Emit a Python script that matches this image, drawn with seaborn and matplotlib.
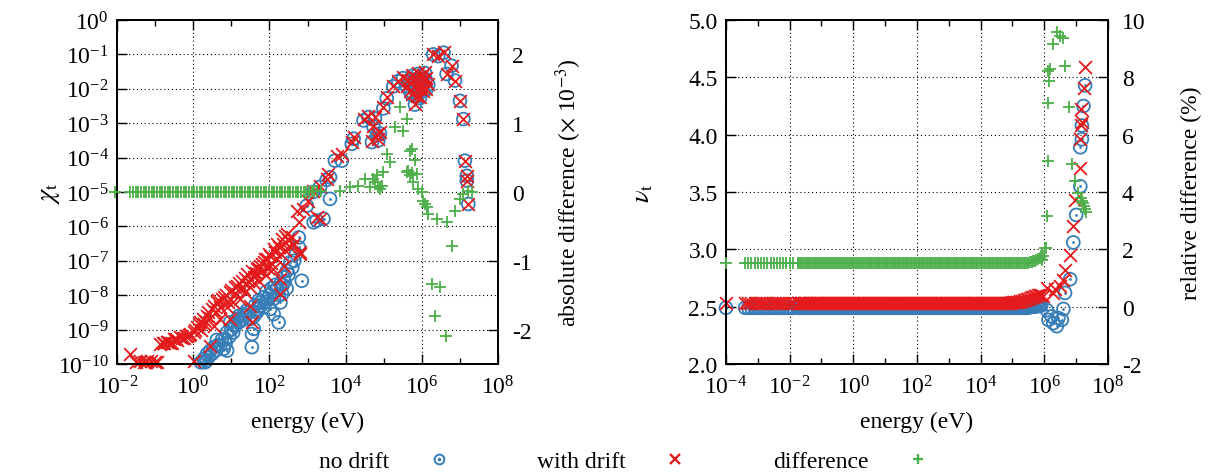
import numpy as np
import matplotlib
matplotlib.use("Agg")
import matplotlib.pyplot as plt
import seaborn as sns
from matplotlib.lines import Line2D
from matplotlib.legend_handler import HandlerTuple
from matplotlib.ticker import (FixedLocator, NullLocator, NullFormatter,
                               LogFormatterSciNotation, FormatStrFormatter)

BLUE = "#377eb8"
RED = "#e41a1c"
GREEN = "#4daf4a"

# ---------------- left panel: chi_t (log10 energy, log10 chi) ----------------
chi_nodrift_loge = [
    0.20, 0.28, 0.31, 0.35, 0.36, 0.40, 0.45, 0.50, 0.54, 0.60, 0.62, 0.65, 0.71, 0.75,
    0.80, 0.84, 0.85, 0.89, 0.89, 0.95, 0.97, 1.00, 1.05, 1.08, 1.10, 1.15, 1.18, 1.20,
    1.25, 1.30, 1.33, 1.38, 1.40, 1.45, 1.50, 1.54, 1.54, 1.59, 1.60, 1.62, 1.67, 1.70,
    1.72, 1.76, 1.78, 1.85, 1.85, 1.90, 1.92, 1.95, 2.00, 2.02, 2.05, 2.08, 2.11, 2.12,
    2.15, 2.20, 2.24, 2.25, 2.29, 2.33, 2.29, 2.35, 2.37, 2.40, 2.45, 2.46, 2.50, 2.55,
    2.60, 2.65, 2.70, 2.77, 2.77, 2.85,
    2.98, 3.16, 3.24, 3.42, 3.59, 3.59, 3.15, 3.33, 3.50, 3.72, 3.90, 4.16, 4.21, 4.47,
    4.60, 4.69, 4.73, 4.77, 4.82, 4.86, 4.90, 4.99, 5.08, 5.25, 5.38, 5.51, 5.60, 5.69,
    5.73, 5.78, 5.82, 5.87, 5.91, 5.95, 6.00, 6.04, 6.08, 6.17, 5.75, 5.85, 5.90, 5.97,
    6.02, 6.10, 5.80, 5.65, 6.12, 5.95, 6.30, 6.43, 6.57, 6.65, 6.78, 6.87, 7.00, 7.09,
    7.13, 7.18, 7.18, 7.22,
]
chi_nodrift_logv = [
    -9.95, -9.85, -9.95, -9.90, -9.71, -9.80, -9.61, -9.70, -9.51, -9.60, -9.30, -9.45, -9.47, -9.30,
    -9.56, -9.27, -9.40, -9.08, -9.61, -9.20, -8.79, -9.00, -9.08, -8.85, -8.90, -8.69, -8.80, -8.60,
    -8.75, -8.70, -8.55, -8.60, -8.45, -8.50, -8.69, -9.51, -9.13, -8.98, -8.60, -8.30, -8.50, -8.40,
    -8.15, -8.21, -8.30, -8.06, -8.35, -8.20, -7.90, -8.10, -8.00, -8.40, -7.80, -7.90, -8.55, -8.10,
    -7.70, -7.80, -8.79, -8.00, -8.21, -7.97, -7.67, -7.70, -7.48, -7.60, -7.80, -7.29, -7.40, -7.04,
    -7.20, -7.00, -6.80, -6.32, -6.61, -7.58,
    -5.40, -5.88, -5.83, -5.78, -5.20, -4.57, -5.00, -4.85, -4.65, -4.09, -4.09, -3.60, -3.45, -2.92,
    -2.82, -3.55, -3.10, -2.86, -3.35, -3.50, -3.30, -2.57, -2.28, -1.93, -1.78, -1.69, -1.93, -2.07,
    -2.17, -1.78, -2.46, -2.22, -2.03, -1.83, -1.64, -2.07, -1.54, -1.88, -1.62, -1.72, -1.57, -1.97,
    -1.77, -1.72, -1.97, -1.77, -2.02, -2.27, -1.00, -1.05, -0.95, -1.57, -1.33, -1.76, -2.35, -2.88,
    -4.09, -4.53, -4.67, -5.35,
]
chi_drift_loge = [
    -1.65, -1.50, -1.39, -1.30, -1.25, -1.20, -1.10, -1.00, -0.95, -0.86, -0.80, -0.76, -0.69, -0.65,
    -0.60, -0.55, -0.51, -0.45, -0.42, -0.34, -0.30, -0.25, -0.20, -0.16, -0.10, -0.08, 0.01, 0.05,
    0.10, 0.01, 0.15, 0.19, 0.20, 0.25, 0.28, 0.30, 0.36, 0.40, 0.45, 0.45, 0.49, 0.54, 0.55,
    0.60, 0.62, 0.65, 0.70, 0.71, 0.75, 0.80, 0.85, 0.88, 0.90, 0.97, 0.97, 1.00, 1.05, 1.10,
    1.10, 1.15, 1.20, 1.24, 1.28, 1.30, 1.35, 1.35, 1.41, 1.45, 1.50, 1.50, 1.54, 1.55, 1.59,
    1.60, 1.65, 1.67, 1.70, 1.72, 1.76, 1.80, 1.80, 1.85, 1.88, 1.90, 1.94, 1.95, 2.00, 2.02,
    2.05, 2.10, 2.11, 2.15, 2.20, 2.20, 2.25, 2.28, 2.29, 2.30, 2.33, 2.35, 2.37, 2.40, 2.41,
    2.46, 2.50, 2.55, 2.60, 2.65, 2.81, 2.72, 2.77, 2.80, 2.89,
    3.02, 3.15, 3.24, 3.33, 3.33, 3.50, 3.55, 3.77, 3.90, 4.16, 4.21, 4.47, 4.60, 4.69,
    4.73, 4.77, 4.82, 4.86, 4.90, 4.99, 5.08, 5.25, 5.38, 5.51, 5.60, 5.69, 5.73, 5.78,
    5.82, 5.87, 5.91, 5.95, 6.00, 6.04, 6.08, 6.17, 5.75, 5.85, 5.90, 5.97, 6.02, 6.10,
    5.80, 5.65, 6.12, 5.95, 6.30, 6.43, 6.57, 6.65, 6.78, 6.87, 7.00, 7.09, 7.13, 7.18,
    7.18, 7.22,
]
chi_drift_logv = [
    -9.71, -9.93, -9.92, -9.95, -9.94, -9.90, -9.92, -9.93, -9.94, -9.42, -9.40, -9.40, -9.37, -9.35,
    -9.40, -9.38, -9.27, -9.28, -9.30, -9.22, -9.25, -9.25, -9.20, -9.18, -9.15, -9.12, -9.08, -9.00,
    -8.93, -9.90, -8.85, -8.79, -9.00, -8.70, -8.85, -8.75, -8.60, -8.50, -9.47, -8.65, -8.40, -8.89, -8.30,
    -8.50, -8.21, -8.15, -8.35, -8.69, -8.10, -8.06, -8.00, -8.35, -8.20, -7.92, -8.69, -7.85, -8.20, -7.95,
    -7.75, -7.72, -7.65, -8.11, -7.58, -7.80, -7.50, -7.90, -7.38, -7.60, -7.77, -8.31, -8.79, -7.30, -7.48,
    -7.65, -7.35, -7.24, -7.20, -7.60, -7.14, -7.30, -7.10, -7.04, -6.95, -7.40, -6.95, -7.20, -6.80, -6.85,
    -7.05, -7.25, -6.66, -6.75, -6.51, -6.95, -6.60, -7.97, -7.53, -6.80, -6.37, -6.50, -7.14, -6.70, -6.27,
    -6.22, -6.40, -6.60, -6.30, -6.50, -6.75, -5.54, -5.88, -6.80, -5.49,
    -5.25, -4.96, -5.74, -5.78, -4.82, -4.62, -4.48, -3.94, -3.90, -3.56, -3.41, -2.88, -2.78, -3.51,
    -3.07, -2.83, -3.31, -3.46, -3.26, -2.54, -2.25, -1.91, -1.76, -1.67, -1.91, -2.05, -2.15, -1.76,
    -2.44, -2.20, -2.01, -1.81, -1.62, -2.05, -1.52, -1.86, -1.60, -1.70, -1.55, -1.95, -1.75, -1.70,
    -1.95, -1.75, -2.00, -2.25, -0.99, -1.04, -0.94, -1.57, -1.33, -1.76, -2.35, -2.88, -4.09, -4.53,
    -4.67, -5.35,
]
# absolute difference (x 1e-3)
chi_diff_loge = [
    -2.05, -1.65, -1.58, -1.51, -1.44, -1.37, -1.30, -1.23, -1.16, -1.09, -1.02,
    -0.95, -0.88, -0.81, -0.74, -0.67, -0.60, -0.53, -0.46, -0.39, -0.32,
    -0.25, -0.18, -0.11, -0.04, 0.03, 0.10, 0.17, 0.24, 0.31, 0.38,
    0.45, 0.52, 0.59, 0.66, 0.73, 0.80, 0.87, 0.94, 1.01, 1.08,
    1.15, 1.22, 1.29, 1.36, 1.43, 1.50, 1.57, 1.64, 1.71, 1.78,
    1.85, 1.92, 1.99, 2.06, 2.13, 2.20, 2.27, 2.34, 2.41, 2.48,
    2.55, 2.62, 2.69, 2.76, 2.83, 2.90, 2.97, 3.04, 3.11, 3.18, 3.25, 3.35,
    3.85, 4.12, 4.33, 4.51, 4.64, 4.72, 4.77, 4.82, 4.85, 4.90, 4.95, 4.99, 5.08, 5.17,
    5.30, 5.43, 5.51, 5.60, 5.60, 5.65, 5.69, 5.70, 5.73, 5.75, 5.78, 5.82, 5.87, 5.91,
    6.00, 6.04, 6.08, 6.13, 6.17, 6.26, 6.35, 6.39, 6.48, 6.63, 6.65, 6.78, 6.87, 7.00,
    7.09, 7.22, 7.31,
]
chi_diff = [
    0.00, 0.00, 0.00, 0.00, 0.00, 0.00, 0.00, 0.00, 0.00, 0.00, 0.00,
    0.00, 0.00, 0.00, 0.00, 0.00, 0.00, 0.00, 0.00, 0.00, 0.00,
    0.00, 0.00, 0.00, 0.00, 0.00, 0.00, 0.00, 0.00, 0.00, 0.00,
    0.00, 0.00, 0.00, 0.00, 0.00, 0.00, 0.00, 0.00, 0.00, 0.00,
    0.00, 0.00, 0.00, 0.00, 0.00, 0.00, 0.00, 0.00, 0.00, 0.00,
    0.00, 0.00, 0.00, 0.00, 0.00, 0.00, 0.00, 0.00, 0.00, 0.00,
    0.00, 0.00, 0.00, 0.00, 0.00, 0.00, 0.00, 0.00, 0.01, 0.01, 0.01, 0.01,
    0.02, 0.07, 0.09, 0.19, 0.07, 0.19, 0.14, 0.24, 0.07, 0.04, 0.09, 0.29, 0.55, 0.43,
    0.94, 1.23, 0.89, 1.06, 0.29, 0.30, 0.24, 0.60, 0.63, 0.28, 0.14, 0.46, 0.26, 0.04,
    0.00, -0.13, -0.17, -0.22, -0.32, -1.34, -1.80, -0.39, -1.38, -2.10, -0.44, -0.78, -0.27, -0.10,
    -0.03, 0.02, 0.00,
]

# ---------------- right panel: nu_t ----------------
nu_flat_loge = [
    -4.0, -3.4, -3.3, -3.2, -3.1, -3.0, -2.9, -2.8, -2.7, -2.6, -2.5, -2.4, -2.3, -2.2, -2.1, -2.0, -1.9,
    -1.75, -1.70, -1.65, -1.60, -1.55, -1.50, -1.45, -1.40, -1.35, -1.30,
    -1.25, -1.20, -1.15, -1.10, -1.05, -1.00, -0.95, -0.90, -0.85, -0.80,
    -0.75, -0.70, -0.65, -0.60, -0.55, -0.50, -0.45, -0.40, -0.35, -0.30,
    -0.25, -0.20, -0.15, -0.10, -0.05, 0.00, 0.05, 0.10, 0.15, 0.20,
    0.25, 0.30, 0.35, 0.40, 0.45, 0.50, 0.55, 0.60, 0.65, 0.70,
    0.75, 0.80, 0.85, 0.90, 0.95, 1.00, 1.05, 1.10, 1.15, 1.20,
    1.25, 1.30, 1.35, 1.40, 1.45, 1.50, 1.55, 1.60, 1.65, 1.70,
    1.75, 1.80, 1.85, 1.90, 1.95, 2.00, 2.05, 2.10, 2.15, 2.20,
    2.25, 2.30, 2.35, 2.40, 2.45, 2.50, 2.55, 2.60, 2.65, 2.70,
    2.75, 2.80, 2.85, 2.90, 2.95, 3.00, 3.05, 3.10, 3.15, 3.20,
    3.25, 3.30, 3.35, 3.40, 3.45, 3.50, 3.55, 3.60, 3.65, 3.70,
    3.75, 3.80, 3.85, 3.90, 3.95, 4.00, 4.05, 4.10, 4.15, 4.20,
    4.25, 4.30, 4.35, 4.40, 4.45, 4.50, 4.55, 4.60, 4.65, 4.70,
    4.75, 4.80, 4.85, 4.90, 4.95, 5.00, 5.05, 5.10, 5.15, 5.20,
    5.25, 5.30, 5.35, 5.40, 5.45, 5.50, 5.55, 5.60, 5.65, 5.70,
    5.75, 5.80, 5.85, 5.90,
]
nu_nodrift_flat = [
    2.49, 2.49, 2.49, 2.49, 2.49, 2.49, 2.49, 2.49, 2.49, 2.49, 2.49, 2.49, 2.49, 2.49, 2.49, 2.49, 2.49,
    2.49, 2.49, 2.49, 2.49, 2.49, 2.49, 2.49, 2.49, 2.49, 2.49,
    2.49, 2.49, 2.49, 2.49, 2.49, 2.49, 2.49, 2.49, 2.49, 2.49,
    2.49, 2.49, 2.49, 2.49, 2.49, 2.49, 2.49, 2.49, 2.49, 2.49,
    2.49, 2.49, 2.49, 2.49, 2.49, 2.49, 2.49, 2.49, 2.49, 2.49,
    2.49, 2.49, 2.49, 2.49, 2.49, 2.49, 2.49, 2.49, 2.49, 2.49,
    2.49, 2.49, 2.49, 2.49, 2.49, 2.49, 2.49, 2.49, 2.49, 2.49,
    2.49, 2.49, 2.49, 2.49, 2.49, 2.49, 2.49, 2.49, 2.49, 2.49,
    2.49, 2.49, 2.49, 2.49, 2.49, 2.49, 2.49, 2.49, 2.49, 2.49,
    2.49, 2.49, 2.49, 2.49, 2.49, 2.49, 2.49, 2.49, 2.49, 2.49,
    2.49, 2.49, 2.49, 2.49, 2.49, 2.49, 2.49, 2.49, 2.49, 2.49,
    2.49, 2.49, 2.49, 2.49, 2.49, 2.49, 2.49, 2.49, 2.49, 2.49,
    2.49, 2.49, 2.49, 2.49, 2.49, 2.49, 2.49, 2.49, 2.49, 2.49,
    2.49, 2.49, 2.49, 2.49, 2.49, 2.49, 2.49, 2.49, 2.49, 2.49,
    2.49, 2.49, 2.49, 2.49, 2.49, 2.49, 2.49, 2.49, 2.49, 2.49,
    2.49, 2.49, 2.49, 2.49, 2.49, 2.495, 2.495, 2.50, 2.50, 2.50,
    2.505, 2.505, 2.51, 2.51,
]
nu_drift_flat = [
    2.535, 2.535, 2.535, 2.535, 2.535, 2.535, 2.535, 2.535, 2.535, 2.535, 2.535, 2.535, 2.535, 2.535, 2.535, 2.535, 2.535,
    2.535, 2.535, 2.535, 2.535, 2.535, 2.535, 2.535, 2.535, 2.535, 2.535,
    2.535, 2.535, 2.535, 2.535, 2.535, 2.535, 2.535, 2.535, 2.535, 2.535,
    2.535, 2.535, 2.535, 2.535, 2.535, 2.535, 2.535, 2.535, 2.535, 2.535,
    2.535, 2.535, 2.535, 2.535, 2.535, 2.535, 2.535, 2.535, 2.535, 2.535,
    2.535, 2.535, 2.535, 2.535, 2.535, 2.535, 2.535, 2.535, 2.535, 2.535,
    2.535, 2.535, 2.535, 2.535, 2.535, 2.535, 2.535, 2.535, 2.535, 2.535,
    2.535, 2.535, 2.535, 2.535, 2.535, 2.535, 2.535, 2.535, 2.535, 2.535,
    2.535, 2.535, 2.535, 2.535, 2.535, 2.535, 2.535, 2.535, 2.535, 2.535,
    2.535, 2.535, 2.535, 2.535, 2.535, 2.535, 2.535, 2.535, 2.535, 2.535,
    2.535, 2.535, 2.535, 2.535, 2.535, 2.535, 2.535, 2.535, 2.535, 2.535,
    2.535, 2.535, 2.535, 2.535, 2.535, 2.535, 2.535, 2.535, 2.535, 2.535,
    2.535, 2.535, 2.535, 2.535, 2.535, 2.535, 2.535, 2.535, 2.535, 2.535,
    2.535, 2.535, 2.535, 2.535, 2.535, 2.535, 2.535, 2.535, 2.535, 2.535,
    2.535, 2.535, 2.535, 2.535, 2.535, 2.54, 2.54, 2.54, 2.545, 2.545,
    2.55, 2.55, 2.555, 2.56, 2.565, 2.57, 2.575, 2.58, 2.585, 2.59,
    2.595, 2.60, 2.60, 2.605,
]
nu_diff_flat = [
    1.52, 1.52, 1.52, 1.52, 1.52, 1.52, 1.52, 1.52, 1.52, 1.52, 1.52, 1.52, 1.52, 1.52, 1.52, 1.52, 1.52,
    1.52, 1.52, 1.52, 1.52, 1.52, 1.52, 1.52, 1.52, 1.52, 1.52,
    1.52, 1.52, 1.52, 1.52, 1.52, 1.52, 1.52, 1.52, 1.52, 1.52,
    1.52, 1.52, 1.52, 1.52, 1.52, 1.52, 1.52, 1.52, 1.52, 1.52,
    1.52, 1.52, 1.52, 1.52, 1.52, 1.52, 1.52, 1.52, 1.52, 1.52,
    1.52, 1.52, 1.52, 1.52, 1.52, 1.52, 1.52, 1.52, 1.52, 1.52,
    1.52, 1.52, 1.52, 1.52, 1.52, 1.52, 1.52, 1.52, 1.52, 1.52,
    1.52, 1.52, 1.52, 1.52, 1.52, 1.52, 1.52, 1.52, 1.52, 1.52,
    1.52, 1.52, 1.52, 1.52, 1.52, 1.52, 1.52, 1.52, 1.52, 1.52,
    1.52, 1.52, 1.52, 1.52, 1.52, 1.52, 1.52, 1.52, 1.52, 1.52,
    1.52, 1.52, 1.52, 1.52, 1.52, 1.52, 1.52, 1.52, 1.52, 1.52,
    1.52, 1.52, 1.52, 1.52, 1.52, 1.52, 1.52, 1.52, 1.52, 1.52,
    1.52, 1.52, 1.52, 1.52, 1.52, 1.52, 1.52, 1.52, 1.52, 1.52,
    1.52, 1.52, 1.52, 1.52, 1.52, 1.52, 1.52, 1.52, 1.52, 1.52,
    1.52, 1.52, 1.52, 1.52, 1.52, 1.52, 1.52, 1.52, 1.52, 1.52,
    1.52, 1.52, 1.52, 1.53, 1.53, 1.54, 1.55, 1.57, 1.58, 1.60,
    1.63, 1.66, 1.70, 1.75,
]
nu_nodrift_tail_loge = [6.08, 6.13, 6.23, 6.28, 6.39, 6.44, 6.55, 6.60, 6.65, 6.81,
                        6.91, 7.00, 7.13, 7.13, 7.18, 7.18, 7.23, 7.28]
nu_nodrift_tail = [2.47, 2.385, 2.414, 2.356, 2.33, 2.40, 2.385, 2.48, 2.62, 2.74,
                   3.06, 3.30, 3.55, 3.89, 3.96, 4.08, 4.25, 4.43]
nu_drift_tail_loge = [5.97, 6.08, 6.28, 6.34, 6.50, 6.60, 6.65, 6.81, 6.91, 6.96,
                      7.12, 7.12, 7.16, 7.14, 7.18, 7.25, 7.28]
nu_drift_tail = [2.59, 2.66, 2.62, 2.65, 2.68, 2.73, 2.82, 2.95, 3.20, 3.43,
                 3.71, 3.96, 4.08, 4.22, 4.11, 4.41, 4.59]
nu_diff_tail_loge = [5.92, 5.97, 6.02, 6.05, 6.09, 6.10, 6.13, 6.13, 6.16, 6.18,
                     6.26, 6.39, 6.49, 6.60, 6.65, 6.79, 6.86, 6.96, 7.07, 7.15,
                     7.18, 7.22, 7.25, 7.28, 7.30]
nu_diff_tail = [1.64, 1.76, 2.05, 2.05, 3.16, 5.08, 7.12, 8.23, 7.88, 8.29,
                9.16, 9.57, 9.45, 9.36, 8.40, 6.95, 4.96, 4.38, 3.97, 3.80,
                3.68, 3.60, 3.50, 3.39, 3.30]

LEGEND_LABELS = ["no drift", "with drift", "difference"]


def e(vals):
    return np.power(10.0, np.asarray(vals, dtype=float))


sns.set_style("white")
plt.rcParams["font.family"] = ["Liberation Serif", "DejaVu Serif"]
plt.rcParams["mathtext.fontset"] = "stix"
plt.rcParams["axes.unicode_minus"] = False
plt.rcParams["font.size"] = 17
plt.rcParams["text.color"] = "black"
plt.rcParams["axes.labelcolor"] = "black"
plt.rcParams["xtick.color"] = "black"
plt.rcParams["ytick.color"] = "black"
plt.rcParams["axes.edgecolor"] = "black"
plt.rcParams["axes.linewidth"] = 1.3

GRID = dict(color="black", linestyle=(0, (1, 2.5)), linewidth=0.8)
MS = 85
LW = 1.3


def circles(ax, x, y):
    sns.scatterplot(x=x, y=y, ax=ax, marker="o", s=MS, facecolor="none",
                    edgecolor=BLUE, linewidth=LW, clip_on=False, zorder=3)
    sns.scatterplot(x=x, y=y, ax=ax, marker="o", s=4, color=BLUE,
                    linewidth=0, clip_on=False, zorder=3)


def crosses(ax, x, y):
    sns.scatterplot(x=x, y=y, ax=ax, marker="x", s=MS, color=RED,
                    linewidth=LW, clip_on=False, zorder=4)


def pluses(ax, x, y):
    sns.scatterplot(x=x, y=y, ax=ax, marker="+", s=MS, color=GREEN,
                    linewidth=LW, clip_on=False, zorder=5)


def style_x(ax, lo, hi):
    ax.set_xscale("log")
    ax.set_xlim(10.0 ** lo, 10.0 ** hi)
    ax.xaxis.set_major_locator(FixedLocator([10.0 ** k for k in range(lo, hi + 1, 2)]))
    ax.xaxis.set_minor_locator(FixedLocator([10.0 ** k for k in range(lo + 1, hi, 2)]))
    ax.xaxis.set_major_formatter(LogFormatterSciNotation())
    ax.xaxis.set_minor_formatter(NullFormatter())
    ax.set_xlabel("energy (eV)")
    ax.xaxis.set_label_coords(0.5, -0.135)


fig = plt.figure(figsize=(12.1, 4.77), dpi=100)
ax1 = fig.add_axes([0.0967, 0.2348, 0.3149, 0.7212])
ax3 = fig.add_axes([0.6, 0.2348, 0.3157, 0.7212])

# left panel
circles(ax1, e(chi_nodrift_loge), e(chi_nodrift_logv))
crosses(ax1, e(chi_drift_loge), e(chi_drift_logv))
style_x(ax1, -2, 8)
ax1.set_yscale("log")
ax1.set_ylim(1e-10, 1)
ax1.yaxis.set_major_locator(FixedLocator([10.0 ** k for k in range(-10, 1)]))
ax1.yaxis.set_minor_locator(NullLocator())
ax1.yaxis.set_major_formatter(LogFormatterSciNotation())
ax1.grid(True, which="major", **GRID)
ax1.set_ylabel(r"$\chi_\mathrm{t}$", fontsize=19)
ax1.yaxis.set_label_coords(-0.145, 0.5)

ax2 = ax1.twinx()
pluses(ax2, e(chi_diff_loge), chi_diff)
ax2.set_ylim(-2.5, 2.5)
ax2.set_yticks([-2, -1, 0, 1, 2])
ax2.set_ylabel(r"absolute difference ($\times$ 10$^{-3}$)")
ax2.yaxis.set_label_coords(1.145, 0.5)

# right panel
circles(ax3, e(nu_flat_loge + nu_nodrift_tail_loge), nu_nodrift_flat + nu_nodrift_tail)
crosses(ax3, e(nu_flat_loge + nu_drift_tail_loge), nu_drift_flat + nu_drift_tail)
style_x(ax3, -4, 8)
ax3.set_ylim(2.0, 5.0)
ax3.set_yticks([2.0, 2.5, 3.0, 3.5, 4.0, 4.5, 5.0])
ax3.yaxis.set_major_formatter(FormatStrFormatter("%.1f"))
ax3.grid(True, which="major", **GRID)
ax3.set_ylabel(r"$\nu_\mathrm{t}$", fontsize=19)
ax3.yaxis.set_label_coords(-0.185, 0.5)

ax4 = ax3.twinx()
pluses(ax4, e(nu_flat_loge + nu_diff_tail_loge), nu_diff_flat + nu_diff_tail)
ax4.set_ylim(-2, 10)
ax4.set_yticks([-2, 0, 2, 4, 6, 8, 10])
ax4.set_ylabel("relative difference (%)")
ax4.yaxis.set_label_coords(1.19, 0.5)

for a in (ax1, ax3):
    a.tick_params(axis="x", which="both", direction="in", top=True, bottom=True, pad=8)
    a.tick_params(axis="x", which="major", length=7, width=1.0)
    a.tick_params(axis="x", which="minor", length=4, width=1.0)
    a.tick_params(axis="y", which="major", direction="in", length=7, width=1.0, pad=6)
for a in (ax2, ax4):
    a.tick_params(axis="y", which="major", direction="in", length=7, width=1.0, pad=10)
    for s in a.spines.values():
        s.set_linewidth(1.3)

handles = [
    (Line2D([], [], ls="none", marker="o", mfc="none", mec=BLUE, mew=LW * 1.1, ms=7),
     Line2D([], [], ls="none", marker="o", mfc=BLUE, mec=BLUE, ms=1.6)),
    Line2D([], [], ls="none", marker="x", color=RED, mew=LW * 1.3, ms=7.5),
    Line2D([], [], ls="none", marker="+", color=GREEN, mew=LW * 1.3, ms=7.5),
]
fig.legend(handles, LEGEND_LABELS, loc="center", bbox_to_anchor=(0.521, 0.03),
           ncol=3, frameon=False, markerfirst=False, handletextpad=1.1,
           columnspacing=3.15, handlelength=2.0,
           handler_map={tuple: HandlerTuple(ndivide=1)})

fig.savefig("out.png", dpi=100)
